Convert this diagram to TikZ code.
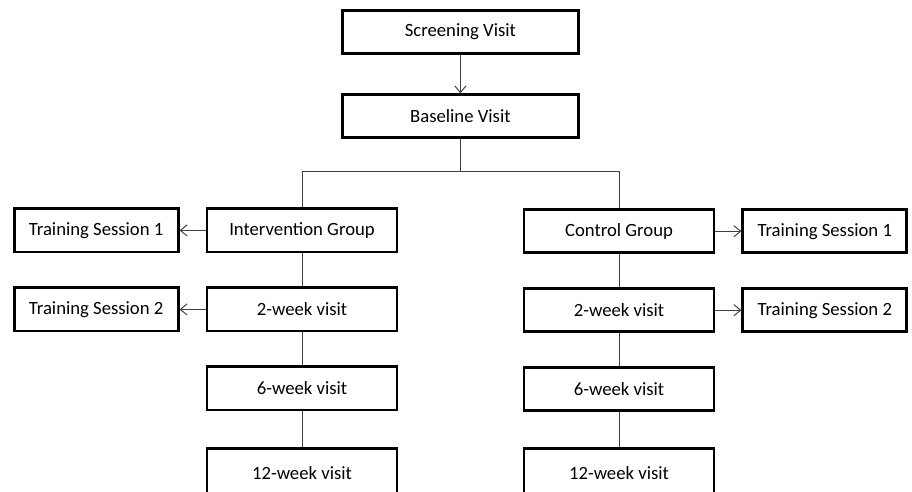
\documentclass[tikz,border=0pt]{standalone}
\usepackage{fontspec}
\setmainfont{Carlito}
\usetikzlibrary{positioning, arrows.meta}

\begin{document}
\begin{tikzpicture}[
    visitbox/.style={draw, line width=2pt, minimum width=4.75cm, minimum height=1.08cm, font=\fontsize{13.3}{16}\selectfont},
    topbox/.style={visitbox, minimum width=5.9cm, minimum height=1.06cm},
    trainbox/.style={visitbox, minimum width=4.1cm},
    lastbox/.style={visitbox, minimum height=1.2cm},
    link/.style={black!75, line width=0.7pt},
    >={Straight Barb[length=1.7mm, width=2.8mm]},
    node distance=0.825cm]
    \useasboundingbox (0,0) rectangle (22.8,-12.3);
    \clip (0,0) rectangle (22.8,-12.3);
    \node[topbox] (screen) at (11.51,-0.8) {Screening Visit};
    \node[topbox, below=0.97cm of screen] (base) {Baseline Visit};
    \coordinate[below=0.82cm of base] (split);
    % intervention arm
    \node[visitbox] (ig) at (7.55,-5.76) {Intervention Group};
    \node[visitbox, below=of ig] (ig2) {2-week visit};
    \node[visitbox, below=of ig2] (ig6) {6-week visit};
    \node[lastbox, below=0.9cm of ig6] (ig12) {12-week visit};
    \node[trainbox, left=0.65cm of ig] (its1) {Training Session 1};
    \node[trainbox, left=0.65cm of ig2] (its2) {Training Session 2};
    % control arm
    \node[visitbox] (cg) at (15.475,-5.78) {Control Group};
    \node[visitbox, below=of cg] (cg2) {2-week visit};
    \node[visitbox, below=of cg2] (cg6) {6-week visit};
    \node[lastbox, below=0.88cm of cg6] (cg12) {12-week visit};
    \node[trainbox, right=0.65cm of cg] (cts1) {Training Session 1};
    \node[trainbox, right=0.65cm of cg2] (cts2) {Training Session 2};
    \draw[link, ->] (screen) -- (base);
    \draw[link] (base) -- (split);
    \draw[link] (split) -| (ig.north);
    \draw[link] (split) -| (cg.north);
    \draw[link] (ig) -- (ig2);
    \draw[link] (ig2) -- (ig6);
    \draw[link] (ig6) -- (ig12);
    \draw[link] (cg) -- (cg2);
    \draw[link] (cg2) -- (cg6);
    \draw[link] (cg6) -- (cg12);
    \draw[link, ->] (ig) -- (its1);
    \draw[link, ->] (ig2) -- (its2);
    \draw[link, ->] (cg) -- (cts1);
    \draw[link, ->] (cg2) -- (cts2);
\end{tikzpicture}
\end{document}
